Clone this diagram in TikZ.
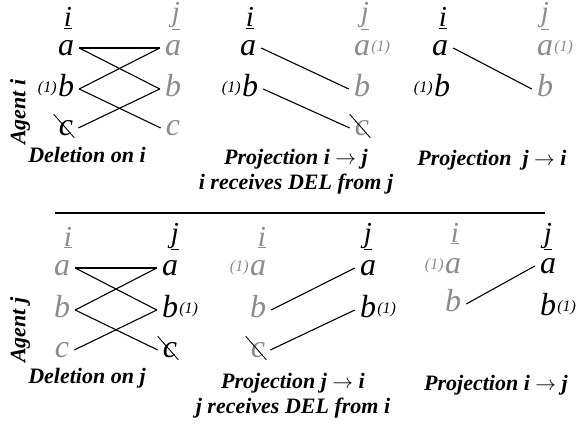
\documentclass[tikz,border=0pt]{standalone}
\usepackage{fontspec}
\setmainfont{Liberation Serif}
\usetikzlibrary{positioning}
\definecolor{faded}{HTML}{8C8C8C}

\begin{document}
\begin{tikzpicture}[x=1pt, y=-1pt,
    letter/.style={font=\fontsize{32}{32}\selectfont\itshape, inner xsep=5pt, inner ysep=2pt,
                   text height=15pt, text depth=0pt},
    own/.style={letter, text=black},
    far/.style={letter, text=faded},
    head/.style={font=\fontsize{29}{29}\selectfont\itshape, inner sep=0pt, anchor=base},
    tag/.style={font=\fontsize{16}{16}\selectfont\itshape, inner sep=0pt},
    caption/.style={font=\fontsize{22}{25}\selectfont\bfseries\itshape, align=center},
    agent/.style={font=\fontsize{22}{25}\selectfont\bfseries\itshape, rotate=90},
    link/.style={line width=1.1pt},
    slash/.style={line width=0.9pt}
  ]
  \useasboundingbox (0,0) rectangle (577,428);

  % agent i, deletion
  \node[agent] (agi) at (20,112) {Agent i};
  \node[head] (t1hi) at (68,27) {\underline{i}};
  \node[head, text=faded] (t1hj) at (176,22) {\underline{j}};
  \node[own] (t1la) at (66,48) {a};
  \node[own] (t1lb) at (66,89) {b};
  \node[own] (t1lc) at (66,128) {c};
  \node[tag, left=-4pt of t1lb] (t1lbt) {(1)};
  \node[far] (t1ra) at (173,48) {a};
  \node[far] (t1rb) at (173,89) {b};
  \node[far] (t1rc) at (173,128) {c};
  \draw[slash] ([yshift=4pt]t1lc.north west) -- ([xshift=-4pt]t1lc.south east);
  \draw[link] (t1la.east) -- (t1ra.west);
  \draw[link] (t1la.east) -- (t1rb.west);
  \draw[link] (t1lb.east) -- (t1ra.west);
  \draw[link] (t1lb.east) -- (t1rc.west);
  \draw[link] (t1lc.east) -- (t1rb.west);
  \node[caption] (t1cap) at (87,155) {Deletion on i};

  % agent i, projection i -> j
  \node[head] (t2hi) at (250,27) {\underline{i}};
  \node[head, text=faded] (t2hj) at (365,22) {\underline{j}};
  \node[own] (t2la) at (248,48) {a};
  \node[own] (t2lb) at (250,89) {b};
  \node[tag, left=-4pt of t2lb] (t2lbt) {(1)};
  \node[far] (t2ra) at (362,48) {a};
  \node[tag, text=faded, right=-4pt of t2ra] (t2rat) {(1)};
  \node[far] (t2rb) at (362,89) {b};
  \node[far] (t2rc) at (362,128) {c};
  \draw[slash] ([yshift=4pt]t2rc.north west) -- ([xshift=-4pt]t2rc.south east);
  \draw[link] (t2la.east) -- (t2rb.west);
  \draw[link] (t2lb.east) -- (t2rc.west);
  \node[caption] (t2cap) at (296,172) {Projection i $\rightarrow$ j\\i receives DEL from j};

  % agent i, projection j -> i
  \node[head] (t3hi) at (443,27) {\underline{i}};
  \node[head, text=faded] (t3hj) at (545,22) {\underline{j}};
  \node[own] (t3la) at (440,48) {a};
  \node[own] (t3lb) at (442,89) {b};
  \node[tag, left=-4pt of t3lb] (t3lbt) {(1)};
  \node[far] (t3ra) at (545,48) {a};
  \node[tag, text=faded, right=-4pt of t3ra] (t3rat) {(1)};
  \node[far] (t3rb) at (545,89) {b};
  \draw[link] (t3la.east) -- (t3rb.west);
  \node[caption] (t3cap) at (492,160) {Projection\enspace j $\rightarrow$ i};

  \draw[line width=1.2pt] (55,213) -- (545,213);

  % agent j, deletion
  \node[agent] (agj) at (20,330) {Agent j};
  \node[head, text=faded] (b1hi) at (68,246) {\underline{i}};
  \node[head] (b1hj) at (175,242) {\underline{j}};
  \node[far] (b1la) at (62,268) {a};
  \node[far] (b1lb) at (62,310) {b};
  \node[far] (b1lc) at (62,350) {c};
  \node[own] (b1ra) at (170,268) {a};
  \node[own] (b1rb) at (170,310) {b};
  \node[tag, right=-4pt of b1rb] (b1rbt) {(1)};
  \node[own] (b1rc) at (170,350) {c};
  \draw[slash] ([yshift=4pt]b1rc.north west) -- ([xshift=-4pt]b1rc.south east);
  \draw[link] (b1la.east) -- (b1ra.west);
  \draw[link] (b1la.east) -- (b1rb.west);
  \draw[link] (b1lb.east) -- (b1ra.west);
  \draw[link] (b1lb.east) -- (b1rc.west);
  \draw[link] (b1lc.east) -- (b1rb.west);
  \node[caption] (b1cap) at (87,378) {Deletion on j};

  % agent j, projection j -> i
  \node[head, text=faded] (b2hi) at (262,246) {\underline{i}};
  \node[head] (b2hj) at (368,242) {\underline{j}};
  \node[far] (b2la) at (258,268) {a};
  \node[tag, text=faded, left=-4pt of b2la] (b2lat) {(1)};
  \node[far] (b2lb) at (258,310) {b};
  \node[far] (b2lc) at (258,350) {c};
  \draw[slash] ([yshift=4pt]b2lc.north west) -- ([xshift=-4pt]b2lc.south east);
  \node[own] (b2ra) at (368,268) {a};
  \node[own] (b2rb) at (368,310) {b};
  \node[tag, right=-4pt of b2rb] (b2rbt) {(1)};
  \draw[link] (b2lb.east) -- (b2ra.west);
  \draw[link] (b2lc.east) -- (b2rb.west);
  \node[caption] (b2cap) at (293,396) {Projection j $\rightarrow$ i\\j receives DEL from i};

  % agent j, projection i -> j
  \node[head, text=faded] (b3hi) at (455,242) {\underline{i}};
  \node[head] (b3hj) at (548,242) {\underline{j}};
  \node[far] (b3la) at (453,266) {a};
  \node[tag, text=faded, left=-4pt of b3la] (b3lat) {(1)};
  \node[far] (b3lb) at (453,304) {b};
  \node[own] (b3ra) at (548,266) {a};
  \node[own] (b3rb) at (548,308) {b};
  \node[tag, right=-4pt of b3rb] (b3rbt) {(1)};
  \draw[link] (b3lb.east) -- (b3ra.west);
  \node[caption] (b3cap) at (496,385) {Projection i $\rightarrow$ j};
\end{tikzpicture}
\end{document}
